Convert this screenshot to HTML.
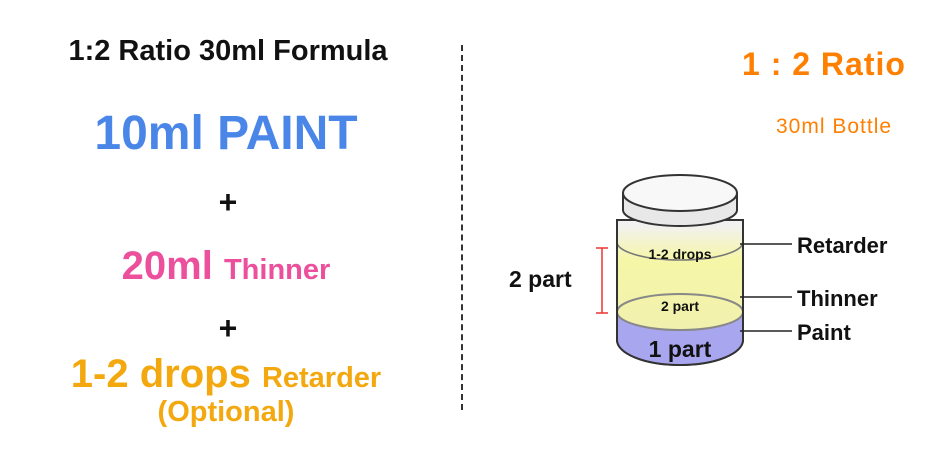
<!DOCTYPE html>
<html><head><style>
body{margin:0;width:930px;height:465px;background:#fff;overflow:hidden;font-family:"Liberation Sans",sans-serif;position:relative}
.t{position:absolute;white-space:nowrap;font-weight:bold;text-align:center}
</style></head><body>
<div class="t" style="left:0;width:456px;top:35px;font-size:29px;color:#111">1:2 Ratio 30ml Formula</div>
<div class="t" style="left:0;width:452px;top:106px;font-size:48px;color:#4a86e8">10ml PAINT</div>
<div class="t" style="left:0;width:456px;top:184px;font-size:32px;color:#111">+</div>
<div class="t" style="left:0;width:452px;top:244px;font-size:40px;color:#ec4f9c">20ml <span style="font-size:29px">Thinner</span></div>
<div class="t" style="left:0;width:456px;top:310px;font-size:32px;color:#111">+</div>
<div class="t" style="left:0;width:452px;top:352px;font-size:40px;color:#f4a80f">1-2 drops <span style="font-size:29px">Retarder</span></div>
<div class="t" style="left:0;width:452px;top:396px;font-size:29px;color:#f4a80f">(Optional)</div>
<div style="position:absolute;left:461px;top:45px;height:365px;border-left:2px dashed #333"></div>
<div class="t" style="left:742px;top:46px;font-size:32px;color:#ff7f00;letter-spacing:1px">1 : 2 Ratio</div>
<div class="t" style="left:776px;top:115px;font-size:21px;font-weight:normal;color:#ff7f00;letter-spacing:1px">30ml Bottle</div>
<svg style="position:absolute;left:0;top:0" width="930" height="465">
<defs><linearGradient id="y" x1="0" y1="0" x2="0" y2="1"><stop offset="0" stop-color="#f1f1f1"/><stop offset="0.25" stop-color="#f6f6a8"/><stop offset="1" stop-color="#eeeeb0"/></linearGradient></defs>
<path d="M617 220 L617 340 A63 25 0 0 0 743 340 L743 220 Z" fill="#f1f1f1" stroke="#333" stroke-width="2"/>
<path d="M617 225 L743 225 L743 340 A63 25 0 0 1 617 340 Z" fill="url(#y)"/>
<path d="M617 312 A63 18 0 0 0 743 312 L743 340 A63 25 0 0 1 617 340 Z" fill="#a9a6f0"/>
<path d="M617 242 A63 18 0 0 0 743 242" fill="none" stroke="#777" stroke-width="1.5"/>
<ellipse cx="680" cy="312" rx="63" ry="18" fill="none" stroke="#888" stroke-width="2"/>
<path d="M617 220 L617 340 A63 25 0 0 0 743 340 L743 220" fill="none" stroke="#333" stroke-width="2"/>
<path d="M623 193 L623 210 A57 16 0 0 0 737 210 L737 193" fill="#e8e8e8" stroke="#333" stroke-width="2"/>
<ellipse cx="680" cy="193" rx="57" ry="18" fill="#f8f8f8" stroke="#333" stroke-width="2"/>
<g stroke="#222" stroke-width="1.5"><line x1="740" y1="244" x2="792" y2="244"/><line x1="740" y1="297" x2="792" y2="297"/><line x1="740" y1="331" x2="792" y2="331"/></g>
<g stroke="#e33" stroke-width="1.5"><line x1="602" y1="248" x2="602" y2="313"/><line x1="596" y1="248" x2="608" y2="248"/><line x1="596" y1="313" x2="608" y2="313"/></g>
<g font-family="Liberation Sans,sans-serif" font-weight="bold" fill="#111">
<text x="680" y="259" font-size="14" text-anchor="middle">1-2 drops</text>
<text x="680" y="311" font-size="14" text-anchor="middle">2 part</text>
<text x="680" y="357" font-size="23" text-anchor="middle">1 part</text>
<text x="509" y="287" font-size="23">2 part</text>
<text x="797" y="253" font-size="22">Retarder</text>
<text x="797" y="306" font-size="22">Thinner</text>
<text x="797" y="340" font-size="22">Paint</text>
</g>
</svg>
</body></html>
